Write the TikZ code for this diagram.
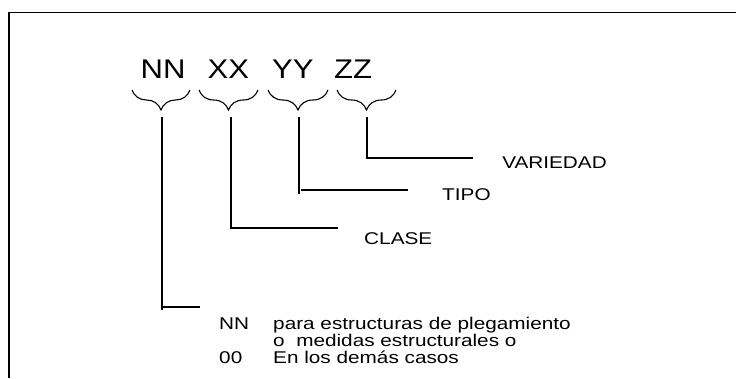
\documentclass[tikz,border=0pt]{standalone}
\usepackage{fontspec}
\setmainfont{Liberation Sans}
\usetikzlibrary{decorations.pathreplacing}
\begin{document}
\begin{tikzpicture}[x=1pt,y=-1pt,
  big/.style={inner sep=0pt,anchor=base west,font=\fontsize{27}{30}\selectfont,xscale=1.15},
  small/.style={inner sep=0pt,anchor=base west,font=\fontsize{17}{17}\selectfont,xscale=1.22},
  brc/.style={decorate,decoration={brace,mirror,amplitude=20pt,aspect=0.5},line width=1.1pt},
  lead/.style={line width=1.1pt}]
\useasboundingbox (0,0) rectangle (736,378);
\draw[line width=1.3pt] (9,378) -- (9,12.5) -- (736,12.5);
% codes
\node[big] (nn) at (140.5,78) {NN};
\node[big] (xx) at (207.5,78) {XX};
\node[big] (yy) at (272,78) {YY};
\node[big] (zz) at (334,78) {ZZ};
% braces
\draw[brc] (132,90) -- (190,90) coordinate[pos=0.5] (b1);
\draw[brc] (199,90) -- (258,90) coordinate[pos=0.5] (b2);
\draw[brc] (268,90) -- (328,90) coordinate[pos=0.5] (b3);
\draw[brc] (337,90) -- (396,90) coordinate[pos=0.5] (b4);
\coordinate (s1) at (162,117);
\coordinate (s2) at (231,117);
\coordinate (s3) at (299,117);
\coordinate (s4) at (367,117);
% labels
\node[small] (var) at (502,168.5) {VARIEDAD};
\node[small] (tipo) at (442,200) {TIPO};
\node[small] (clase) at (364,244) {CLASE};
\node[small] (n1) at (219,329.5) {NN};
\node[small] (t1) at (273,329.5) {para estructuras de plegamiento};
\node[small] (t2) at (273,346.5) {o\ \ medidas estructurales o};
\node[small] (n2) at (219,363.5) {00};
\node[small] (t3) at (273,363.5) {En los demás casos};
% leaders
\coordinate (e4) at (473,158);
\coordinate (e3) at (408,190);
\coordinate (e2) at (338,228);
\coordinate (e1) at (200,307);
\draw[lead] (s4) -- (s4 |- e4) -- (e4);
\draw[lead] (s3) -- ([yshift=-4pt]s3 |- e3);
\draw[lead] ([xshift=2pt]s3 |- e3) -- (e3);
\draw[lead] (s2) -- (s2 |- e2) -- (e2);
\draw[lead] (s1) -- ([yshift=-3pt]s1 |- e1);
\draw[lead] (s1 |- e1) -- (e1);
\end{tikzpicture}
\end{document}
